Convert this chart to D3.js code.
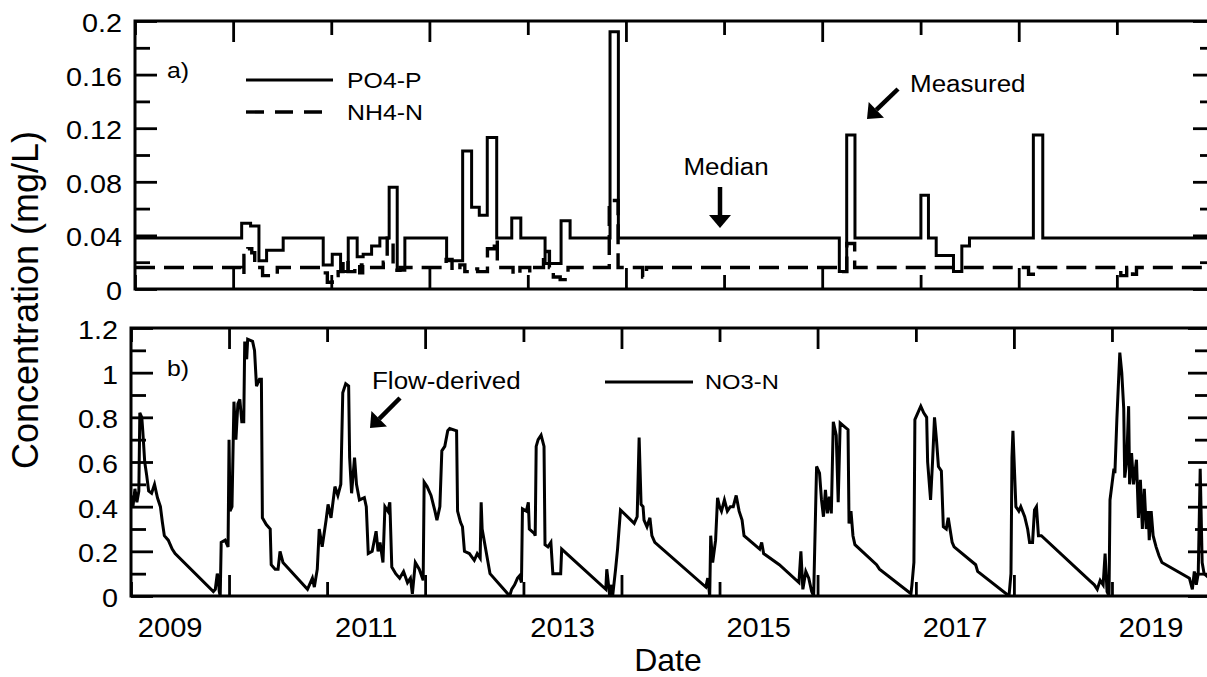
<!DOCTYPE html>
<html><head><meta charset="utf-8">
<script src="https://cdn.jsdelivr.net/npm/d3@7"></script>
<style>
body{margin:0;background:#fff;}
svg{display:block;}
text{font-family:"Liberation Sans",Arial,sans-serif;fill:#000;}
</style>
</head><body>
<svg id="chart" width="1207" height="677"></svg>
<script>
// ---------- data (decimal years, mg/L) ----------
const tickYears = [2009,2010,2011,2012,2013,2014,2015,2016,2017,2018,2019,2020];
const labelYears = [2009,2011,2013,2015,2017,2019];
const yTicksA = [0,0.04,0.08,0.12,0.16,0.2];
const yMinorA = [0.02,0.06,0.1,0.14,0.18];
const yTicksB = [0,0.2,0.4,0.6,0.8,1,1.2];
const yMinorB = [0.1,0.3,0.5,0.7,0.9,1.1];

const po4Dates = [2009.00,2010.087,2010.178,2010.263,2010.341,2010.510,2010.918,2011.010,2011.095,2011.173,2011.264,2011.325,2011.411,2011.495,2011.590,2011.672,2011.750,2012.175,2012.338,2012.429,2012.507,2012.588,2012.684,2012.837,2012.929,2013.176,2013.339,2013.431,2013.838,2013.923,2016.174,2016.249,2016.333,2017.003,2017.080,2017.159,2017.335,2017.420,2017.498,2018.149,2018.245,2020.0];
const po4Values = [0.038,0.049,0.047,0.021,0.029,0.038,0.018,0.026,0.013,0.038,0.024,0.026,0.032,0.038,0.076,0.014,0.038,0.021,0.103,0.061,0.055,0.113,0.038,0.053,0.038,0.019,0.051,0.038,0.192,0.038,0.013,0.115,0.038,0.070,0.038,0.025,0.013,0.032,0.038,0.115,0.038,0.038];

const nh4Dates = [2009.00,2010.08,2010.11,2010.15,2010.19,2010.22,2010.30,2010.45,2010.91,2010.96,2011.01,2011.07,2011.12,2011.17,2011.24,2011.29,2011.32,2011.39,2011.53,2011.57,2011.63,2011.70,2012.17,2012.23,2012.31,2012.36,2012.41,2012.49,2012.59,2012.66,2012.69,2012.85,2012.92,2013.02,2013.07,2013.16,2013.22,2013.26,2013.33,2013.41,2013.83,2013.92,2014.17,2014.21,2016.17,2016.25,2016.33,2018.10,2018.20,2019.04,2019.10,2019.16,2019.20,2020.00];
const nh4Values = [0.016,0.011,0.025,0.030,0.027,0.016,0.010,0.016,0.012,0.005,0.010,0.013,0.022,0.013,0.018,0.012,0.018,0.016,0.020,0.038,0.014,0.016,0.022,0.014,0.018,0.013,0.015,0.013,0.030,0.037,0.016,0.011,0.016,0.012,0.016,0.028,0.016,0.009,0.007,0.016,0.066,0.016,0.009,0.016,0.013,0.034,0.016,0.011,0.016,0.010,0.016,0.011,0.016,0.016];

const no3Dates = [2009.00,2009.02,2009.04,2009.06,2009.08,2009.09,2009.11,2009.12,2009.14,2009.16,2009.18,2009.21,2009.24,2009.27,2009.30,2009.32,2009.34,2009.38,2009.42,2009.45,2009.84,2009.86,2009.88,2009.89,2009.90,2009.91,2009.92,2009.96,2009.99,2010.00,2010.01,2010.03,2010.05,2010.07,2010.09,2010.11,2010.13,2010.15,2010.16,2010.18,2010.19,2010.24,2010.26,2010.28,2010.31,2010.33,2010.34,2010.38,2010.42,2010.43,2010.47,2010.50,2010.52,2010.55,2010.80,2010.82,2010.85,2010.87,2010.90,2010.92,2010.95,2010.99,2011.01,2011.04,2011.08,2011.11,2011.14,2011.16,2011.19,2011.22,2011.23,2011.25,2011.28,2011.30,2011.33,2011.38,2011.40,2011.42,2011.46,2011.50,2011.52,2011.54,2011.57,2011.59,2011.62,2011.64,2011.66,2011.70,2011.74,2011.78,2011.82,2011.85,2011.87,2011.90,2011.94,2011.98,2011.99,2012.02,2012.06,2012.10,2012.12,2012.15,2012.17,2012.20,2012.23,2012.25,2012.32,2012.33,2012.36,2012.38,2012.40,2012.45,2012.50,2012.53,2012.56,2012.57,2012.58,2012.66,2012.86,2012.88,2012.91,2012.94,2012.96,2012.98,2012.99,2013.03,2013.05,2013.06,2013.11,2013.12,2013.13,2013.15,2013.18,2013.21,2013.22,2013.25,2013.28,2013.30,2013.38,2013.39,2013.84,2013.85,2013.88,2013.90,2013.91,2013.94,2013.96,2013.99,2014.13,2014.16,2014.18,2014.20,2014.22,2014.23,2014.26,2014.29,2014.31,2014.34,2014.86,2014.88,2014.90,2014.91,2014.93,2014.96,2014.98,2015.00,2015.02,2015.05,2015.08,2015.11,2015.14,2015.17,2015.20,2015.23,2015.25,2015.41,2015.43,2015.45,2015.61,2015.81,2015.83,2015.85,2015.88,2015.91,2015.94,2015.96,2015.99,2016.02,2016.04,2016.06,2016.08,2016.10,2016.12,2016.14,2016.16,2016.19,2016.21,2016.23,2016.27,2016.31,2016.32,2016.34,2016.36,2016.38,2016.60,2016.63,2016.95,2016.96,2016.98,2016.99,2017.02,2017.05,2017.08,2017.11,2017.12,2017.15,2017.17,2017.19,2017.21,2017.23,2017.26,2017.28,2017.31,2017.33,2017.37,2017.39,2017.61,2017.63,2017.95,2017.97,2017.98,2017.99,2018.02,2018.05,2018.07,2018.11,2018.14,2018.16,2018.19,2018.21,2018.23,2018.25,2018.28,2018.77,2018.82,2018.85,2018.88,2018.91,2018.93,2018.95,2018.97,2018.98,2019.00,2019.02,2019.03,2019.05,2019.08,2019.10,2019.12,2019.13,2019.15,2019.17,2019.18,2019.20,2019.22,2019.25,2019.27,2019.29,2019.31,2019.33,2019.35,2019.37,2019.38,2019.40,2019.42,2019.45,2019.48,2019.51,2019.79,2019.82,2019.84,2019.86,2019.88,2019.90,2019.92,2019.94,2019.99];
const no3Values = [0.45,0.40,0.48,0.42,0.47,0.82,0.80,0.74,0.60,0.54,0.47,0.46,0.50,0.44,0.40,0.33,0.27,0.25,0.21,0.19,0.02,0.03,0.10,0.08,0.02,0.00,0.24,0.25,0.22,0.70,0.38,0.40,0.87,0.70,0.86,0.88,0.78,0.78,1.14,1.06,1.15,1.14,1.10,0.94,0.97,0.97,0.35,0.32,0.30,0.14,0.12,0.12,0.20,0.15,0.03,0.05,0.08,0.04,0.12,0.30,0.22,0.34,0.41,0.35,0.49,0.45,0.50,0.91,0.95,0.94,0.62,0.46,0.62,0.50,0.43,0.44,0.40,0.19,0.20,0.29,0.20,0.24,0.15,0.40,0.38,0.42,0.13,0.10,0.08,0.11,0.06,0.08,0.01,0.15,0.12,0.07,0.51,0.49,0.45,0.38,0.34,0.40,0.65,0.67,0.74,0.75,0.74,0.38,0.33,0.31,0.20,0.19,0.16,0.19,0.17,0.42,0.30,0.10,0.00,0.03,0.05,0.08,0.09,0.06,0.39,0.38,0.42,0.30,0.28,0.27,0.67,0.70,0.72,0.67,0.23,0.22,0.24,0.10,0.10,0.21,0.03,0.12,0.00,0.05,0.00,0.12,0.21,0.385,0.325,0.355,0.71,0.41,0.40,0.34,0.31,0.35,0.27,0.24,0.04,0.08,0.00,0.27,0.15,0.25,0.44,0.40,0.38,0.43,0.38,0.40,0.40,0.45,0.38,0.34,0.27,0.21,0.24,0.19,0.14,0.06,0.20,0.03,0.11,0.08,0.02,0.00,0.58,0.55,0.43,0.355,0.475,0.37,0.445,0.37,0.78,0.72,0.42,0.775,0.76,0.745,0.325,0.38,0.27,0.23,0.14,0.12,0.01,0.05,0.15,0.79,0.82,0.85,0.82,0.80,0.60,0.43,0.60,0.80,0.70,0.58,0.56,0.31,0.30,0.35,0.24,0.22,0.14,0.11,0.00,0.10,0.62,0.74,0.40,0.38,0.40,0.355,0.30,0.24,0.24,0.385,0.40,0.27,0.27,0.07,0.05,0.03,0.07,0.05,0.19,0.02,0.00,0.43,0.50,0.57,0.55,0.79,1.09,1.00,0.84,0.53,0.60,0.85,0.50,0.64,0.50,0.61,0.35,0.52,0.30,0.48,0.30,0.38,0.25,0.38,0.27,0.22,0.18,0.15,0.08,0.03,0.11,0.05,0.10,0.57,0.15,0.10,0.08];

// ---------- helpers ----------
function toDate(y){const yr=Math.floor(y);const a=new Date(yr,0,1).getTime(),b=new Date(yr+1,0,1).getTime();return new Date(a+(y-yr)*(b-a));}
const zip=(ds,vs)=>ds.map((d,i)=>({date:toDate(d),v:vs[i]}));
const SX=1.13; // horizontal glyph stretch of the original
function label(g,x,y,str,size,anchor,sx){
  return g.append("text").attr("transform",`translate(${x},${y}) scale(${sx||SX},1)`)
    .attr("text-anchor",anchor||"start").style("font-size",size+"px").text(str);
}

const svg=d3.select("#chart");
const domain=[new Date(2009,0,1),new Date(2020,0,1)];
const LW=3;

const panels=[
  {left:135,right:1215,top:21,bottom:289,ymax:0.2,major:yTicksA,minor:yMinorA,fmt:d=>d===0?"0":d3.format(".2~f")(d)},
  {left:131,right:1210,top:328,bottom:596,ymax:1.2,major:yTicksB,minor:yMinorB,fmt:d=>d3.format("~g")(d)}
];

panels.forEach((p,i)=>{
  p.x=d3.scaleTime().domain(domain).range([p.left,p.right]);
  p.y=d3.scaleLinear().domain([0,p.ymax]).range([p.bottom,p.top]);
  const g=svg.append("g");
  const clipId="clip"+i;
  svg.append("clipPath").attr("id",clipId).append("rect")
    .attr("x",p.left).attr("y",p.top-4).attr("width",p.right-p.left).attr("height",p.bottom-p.top+4);
  p.g=g; p.clip=clipId;

  const longT=tickYears.filter(y=>y%2===0).map(y=>new Date(y,0,1));
  const shortT=tickYears.filter(y=>y%2===1).map(y=>new Date(y,0,1));
  [[longT,21],[shortT,14]].forEach(([vals,len])=>{
    g.append("g").attr("transform",`translate(0,${p.top})`)
      .call(d3.axisBottom(p.x).tickValues(vals).tickSize(len).tickFormat(""))
      .call(a=>a.select(".domain").remove());
    g.append("g").attr("transform",`translate(0,${p.bottom})`)
      .call(d3.axisTop(p.x).tickValues(vals).tickSize(len).tickFormat(""))
      .call(a=>a.select(".domain").remove());
  });
  [[p.major,22],[p.minor,15]].forEach(([vals,len])=>{
    g.append("g").attr("transform",`translate(${p.left},0)`)
      .call(d3.axisRight(p.y).tickValues(vals).tickSize(len).tickFormat(""))
      .call(a=>a.select(".domain").remove());
    g.append("g").attr("transform",`translate(${p.right},0)`)
      .call(d3.axisLeft(p.y).tickValues(vals).tickSize(len).tickFormat(""))
      .call(a=>a.select(".domain").remove());
  });
  g.selectAll(".tick line").attr("stroke","#000").attr("stroke-width",2.8);
  const lab=g.append("g").attr("transform",`translate(${p.left},0)`)
    .call(d3.axisLeft(p.y).tickValues(p.major).tickSize(0).tickPadding(13).tickFormat(p.fmt));
  lab.select(".domain").remove();
  lab.selectAll("text").attr("x",null).attr("dy",null).attr("y",null)
    .attr("transform",d=>`translate(-13,${p.y(d)+11}) scale(${SX},1)`)
    .style("font-size","25.5px").attr("font-family",null).attr("fill","#000");
  lab.selectAll(".tick").attr("transform",null);
  g.append("rect").attr("x",p.left).attr("y",p.top).attr("width",p.right-p.left).attr("height",p.bottom-p.top)
    .attr("fill","none").attr("stroke","#000").attr("stroke-width",3);
});

// ---------- panel a ----------
const A=panels[0];
const stepLine=d3.line().x(d=>A.x(d.date)).y(d=>A.y(d.v)).curve(d3.curveStepAfter);
A.g.append("path").datum(zip(nh4Dates,nh4Values)).attr("clip-path",`url(#${A.clip})`)
  .attr("d",stepLine).attr("fill","none").attr("stroke","#000").attr("stroke-width",3.4).attr("stroke-dasharray","20,9");
A.g.append("path").datum(zip(po4Dates,po4Values)).attr("clip-path",`url(#${A.clip})`)
  .attr("d",stepLine).attr("fill","none").attr("stroke","#000").attr("stroke-width",LW);

A.g.append("line").attr("x1",246).attr("x2",333).attr("y1",80).attr("y2",80).attr("stroke","#000").attr("stroke-width",LW);
A.g.append("line").attr("x1",246).attr("x2",333).attr("y1",112).attr("y2",112).attr("stroke","#000").attr("stroke-width",3.4).attr("stroke-dasharray","18,11");
label(A.g,347,88,"PO4-P",22);
label(A.g,347,120,"NH4-N",22);
label(A.g,167,78,"a)",22);
label(A.g,726,175,"Median",23,"middle");
label(A.g,910,92,"Measured",23);

function arrow(g,x1,y1,x2,y2){
  const ang=Math.atan2(y2-y1,x2-x1), hl=13, hw=11;
  const bx=x2-hl*Math.cos(ang), by=y2-hl*Math.sin(ang);
  g.append("line").attr("x1",x1).attr("y1",y1).attr("x2",bx).attr("y2",by).attr("stroke","#000").attr("stroke-width",4.5);
  const px=-Math.sin(ang)*hw, py=Math.cos(ang)*hw;
  g.append("path").attr("d",`M${x2},${y2}L${bx+px},${by+py}L${bx-px},${by-py}Z`).attr("fill","#000");
}
arrow(A.g,720,187,720,228);
arrow(A.g,898,89,867,119);

// ---------- panel b ----------
const B=panels[1];
const lin=d3.line().x(d=>B.x(d.date)).y(d=>B.y(d.v));
B.g.append("path").datum(zip(no3Dates,no3Values)).attr("clip-path",`url(#${B.clip})`)
  .attr("d",lin).attr("fill","none").attr("stroke","#000").attr("stroke-width",LW).attr("stroke-linejoin","miter");
B.g.append("line").attr("x1",605).attr("x2",693).attr("y1",382).attr("y2",382).attr("stroke","#000").attr("stroke-width",LW);
label(B.g,705,389,"NO3-N",21);
label(B.g,167,376,"b)",22);
label(B.g,372,389,"Flow-derived",23);
arrow(B.g,400,398,370,428);

const xl=svg.append("g").attr("transform",`translate(0,${B.bottom})`)
  .call(d3.axisBottom(B.x).tickValues(labelYears.map(y=>new Date(y,4,25))).tickSize(0).tickPadding(0).tickFormat(d3.timeFormat("%Y")));
xl.select(".domain").remove();
xl.selectAll("text").attr("dy",null).attr("y",null)
  .attr("transform",`translate(0,41) scale(1.02,1)`).style("font-size","28.5px").attr("font-family",null).attr("fill","#000");

svg.append("text").attr("transform",`translate(668,671)`).attr("text-anchor","middle").style("font-size","32px").text("Date");
svg.append("text").attr("transform",`translate(38,300) rotate(-90)`).attr("text-anchor","middle").style("font-size","36px").text("Concentration (mg/L)");
</script>
</body></html>
